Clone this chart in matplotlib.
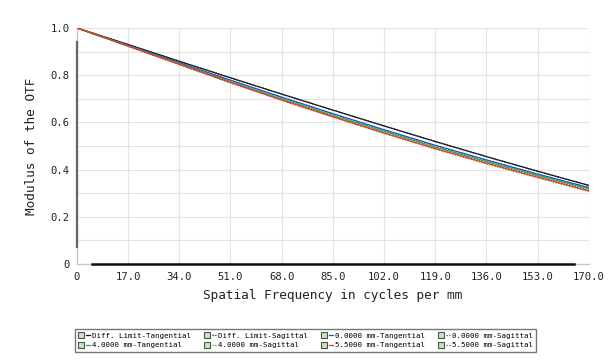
import matplotlib
matplotlib.use("Agg")
import matplotlib.pyplot as plt
from matplotlib.lines import Line2D
from matplotlib.legend_handler import HandlerTuple

# ---- data ----
freq = [0, 17, 34, 51, 68, 85, 102, 119, 136, 153, 170]
diff_t = [1.0, 0.930, 0.859, 0.789, 0.720, 0.652, 0.585, 0.519, 0.455, 0.393, 0.333]
diff_s = [1.0, 0.930, 0.859, 0.789, 0.720, 0.652, 0.585, 0.519, 0.455, 0.393, 0.333]
f0_t = [1.0, 0.927, 0.853, 0.779, 0.707, 0.637, 0.569, 0.503, 0.441, 0.381, 0.324]
f0_s = [1.0, 0.927, 0.852, 0.778, 0.706, 0.636, 0.567, 0.501, 0.439, 0.379, 0.322]
f4_t = [1.0, 0.925, 0.849, 0.773, 0.700, 0.630, 0.562, 0.496, 0.434, 0.375, 0.318]
f4_s = [1.0, 0.924, 0.848, 0.772, 0.698, 0.628, 0.560, 0.494, 0.431, 0.372, 0.314]
f55_t = [1.0, 0.923, 0.846, 0.769, 0.695, 0.624, 0.555, 0.489, 0.427, 0.368, 0.310]
f55_s = [1.0, 0.922, 0.844, 0.767, 0.693, 0.622, 0.553, 0.487, 0.424, 0.365, 0.307]

xticks = [0, 17, 34, 51, 68, 85, 102, 119, 136, 153, 170]
xticklabels = ["0", "17.0", "34.0", "51.0", "68.0", "85.0", "102.0", "119.0",
               "136.0", "153.0", "170.0"]
yticks = [0, 0.2, 0.4, 0.6, 0.8, 1.0]
yticklabels = ["0", "0.2", "0.4", "0.6", "0.8", "1.0"]

labels = ["Diff. Limit-Tangential", "Diff. Limit-Sagittal",
          "0.0000 mm-Tangential", "0.0000 mm-Sagittal",
          "4.0000 mm-Tangential", "4.0000 mm-Sagittal",
          "5.5000 mm-Tangential", "5.5000 mm-Sagittal"]

# ---- styling ----
plt.rcParams['font.family'] = ['DejaVu Sans Mono', 'DejaVu Sans']
C_BLACK = '#1c1c1c'
C_BLUE = '#2a4bd0'
C_GREEN = '#22b04a'
C_RED = '#e23a22'
dot = (0, (1, 1.2))

fig = plt.figure(figsize=(6.10, 3.62), dpi=100)
ax = fig.add_axes([0.126, 0.2707, 0.8394, 0.652])

series = [
    (diff_t, C_BLACK, '-'), (diff_s, C_BLACK, dot),
    (f0_t, C_BLUE, '-'), (f0_s, C_BLUE, dot),
    (f4_t, C_GREEN, '-'), (f4_s, C_GREEN, dot),
    (f55_t, C_RED, '-'), (f55_s, C_RED, dot),
]
lines = []
for (vals, col, ls), lab in zip(series, labels):
    ln, = ax.plot(freq, vals, color=col, linestyle=ls, lw=0.9, label=lab, zorder=3)
    lines.append(ln)

ax.set_xlim(0, 170)
ax.set_ylim(0, 1.0)
ax.set_xticks(xticks)
ax.set_xticklabels(xticklabels, fontsize=7.6, color='#222222')
ax.set_yticks(yticks)
ax.set_yticklabels(yticklabels, fontsize=7.6, color='#222222')
ax.set_yticks([0.1, 0.3, 0.5, 0.7, 0.9], minor=True)
ax.tick_params(axis='both', which='both', length=0)
ax.tick_params(axis='x', pad=6)
ax.tick_params(axis='y', pad=5)
ax.grid(True, which='both', color='#e3e3e3', lw=0.8, zorder=0)

for s in ['top', 'right']:
    ax.spines[s].set_visible(False)
ax.spines['left'].set_color('#c8c8c8')
ax.spines['bottom'].set_color('#c8c8c8')
ax.spines['left'].set_linewidth(1.0)
ax.spines['bottom'].set_linewidth(1.0)
# darker axis segments seen in the reference
ax.axvline(0, ymin=0.07, ymax=0.94, color='#666666', lw=1.6, zorder=4, clip_on=False)
ax.axhline(0, xmin=5 / 170, xmax=165 / 170, color='#111111', lw=1.8, zorder=4, clip_on=False)

ax.set_xlabel("Spatial Frequency in cycles per mm", fontsize=9.2, color='#222222', labelpad=5)
ax.set_ylabel("Modulus of the OTF", fontsize=9.2, color='#222222', labelpad=9)

# ---- legend ----
box = Line2D([], [], marker='s', markersize=4.2, markerfacecolor='#cfe0c8',
             markeredgecolor='#3f5a3f', markeredgewidth=0.8, linestyle='none')
order = [0, 4, 1, 5, 2, 6, 3, 7]
handles = [(box, lines[i]) for i in order]
labs = [labels[i] for i in order]
leg = fig.legend(handles, labs, ncol=4, loc='upper left',
                 bbox_to_anchor=(0.123, 1 - 329 / 362), fontsize=5.4,
                 handler_map={tuple: HandlerTuple(ndivide=None, pad=0.3)},
                 handlelength=1.6, handletextpad=0.2, columnspacing=1.8,
                 labelspacing=0.45, borderpad=0.45, frameon=True, fancybox=False,
                 borderaxespad=0)
leg.get_frame().set_edgecolor('#555555')
leg.get_frame().set_linewidth(1.0)

fig.savefig("out.png", dpi=100)
